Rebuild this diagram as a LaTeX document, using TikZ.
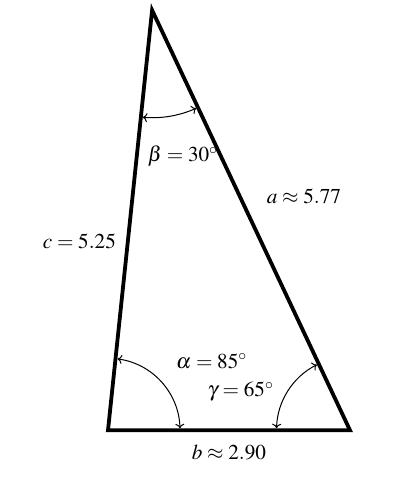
\documentclass[tikz,border=0pt]{standalone}
\usepackage{mathptmx}
\usetikzlibrary{calc,arrows.meta}
\begin{document}
\begin{tikzpicture}[x=1pt,y=1pt,
  side/.style={line width=3.8pt, line join=miter},
  anglearc/.style={line width=1pt, {To[length=4.5pt,width=9pt]}-{To[length=4.5pt,width=9pt]}},
  lbl/.style={inner sep=0pt, anchor=base west, font=\fontsize{21.2}{26}\selectfont}]
\useasboundingbox (0,0) rectangle (407,484);
\coordinate (A) at (108,53.7);
\coordinate (B) at (152.1,473.8);
\coordinate (C) at (350,53.7);
\draw[side] (A) -- (C) -- (B) -- cycle;
\draw[anglearc] ($(A)+(1.6:72)$) arc[start angle=1.6, end angle=82.4, radius=72];
\draw[anglearc] ($(C)+(178.4:73.5)$) arc[start angle=178.4, end angle=116.8, radius=73.5];
\draw[anglearc] ($(B)+(-95:107.5)$) arc[start angle=-95, end angle=-65.8, radius=107.5];
\node[lbl] (beta) at (147.7,322) {$\beta=30^\circ$};
\node[lbl] (alpha) at (176,115.7) {$\alpha=85^\circ$};
\node[lbl] (gamma) at (207.3,87.3) {$\gamma=65^\circ$};
\node[lbl] (bl) at (191.7,24.7) {$b\approx2.90$};
\node[lbl] (al) at (266.7,280) {$a\approx5.77$};
\node[lbl] (cl) at (42.7,235) {$c=5.25$};
\end{tikzpicture}
\end{document}
